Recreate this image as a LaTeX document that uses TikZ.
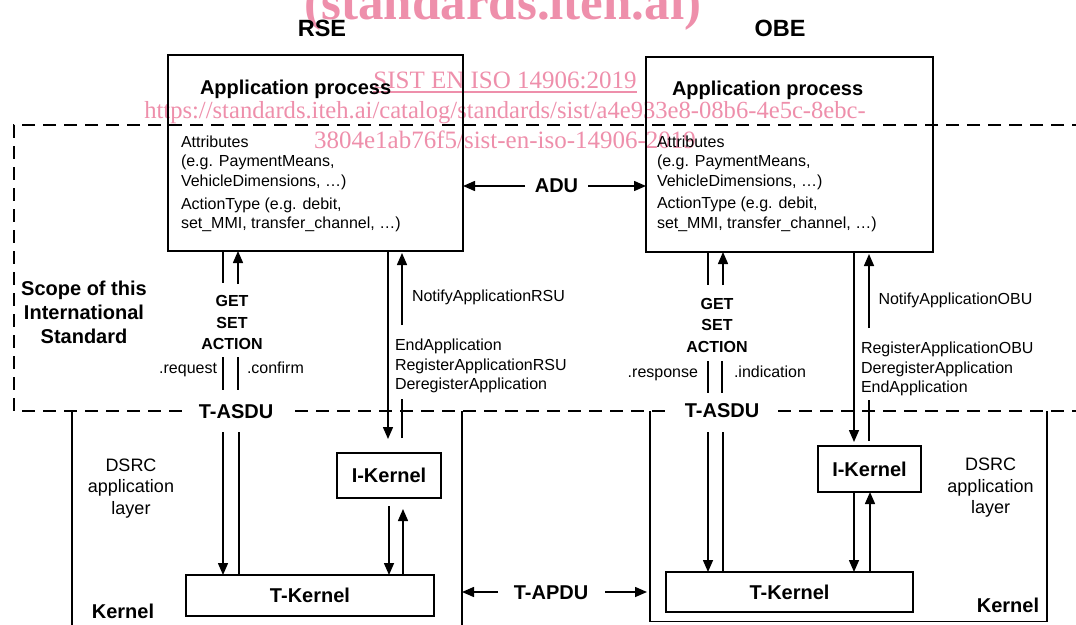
\documentclass[tikz,border=0pt]{standalone}
\usepackage{fontspec}
\setmainfont{Liberation Sans}
\newfontfamily\wmfont{Liberation Serif}
\usetikzlibrary{arrows.meta}
\definecolor{wmpink}{RGB}{238,143,171}
\newcommand\myfa{\fontsize{16}{19.5}\selectfont}
\newcommand\myfb{\fontsize{20}{24}\selectfont\bfseries}
\newcommand\myft{\fontsize{23.5}{28}\selectfont\bfseries}
\newcommand\myfg{\fontsize{16}{20}\selectfont\bfseries}
\newcommand\myfd{\fontsize{18}{21.5}\selectfont}
\newcommand\wmbig{\fontsize{51}{56}\selectfont\wmfont\bfseries}
\newcommand\wmmid{\fontsize{25}{30}\selectfont\wmfont}
\newcommand\wmsmall{\fontsize{24.6}{30}\selectfont\wmfont}
\begin{document}
\begin{tikzpicture}[x=1pt,y=-1pt,
  every node/.style={inner sep=0pt, outer sep=0pt},
  appbox/.style={draw, line width=1.8pt},
  kbox/.style={draw, line width=1.6pt, font=\myfb},
  ln/.style={line width=1.5pt},
  arr/.style={line width=1.5pt, -{Triangle[length=12pt,width=10pt]}},
  scopeline/.style={line width=1.8pt, dash pattern=on 13pt off 8pt},
  tl/.style={anchor=base west, font=\myfa},
  tc/.style={anchor=base, font=\myfa},
  bc/.style={anchor=base, font=\myfb},
  gc/.style={anchor=base, font=\myfg},
  dc/.style={anchor=base, font=\myfd},
  wm/.style={anchor=base, text=wmpink}
]
\useasboundingbox (0,0) rectangle (1076,624);
\clip (0,0) rectangle (1076,624);

% watermark
\node[wm, font=\wmbig] (wm0) at (503,19) {(standards.iteh.ai)};
\node[wm, font=\wmmid] (wm1) at (505,88) {SIST EN ISO 14906:2019};
\draw[wmpink, line width=1.2pt] ([yshift=-4pt]wm1.base west) -- ([yshift=-4pt]wm1.base east);
\node[wm, font=\wmsmall] (wm2) at (505,118) {https://standards.iteh.ai/catalog/standards/sist/a4e933e8-08b6-4e5c-8ebc-};
\node[wm, font=\wmmid] (wm3) at (505,148) {3804e1ab76f5/sist-en-iso-14906-2019};

% titles
\node[anchor=base, font=\myft] (rsetitle) at (322,36) {RSE};
\node[anchor=base, font=\myft] (obetitle) at (780,36) {OBE};

% application boxes
\node[appbox, minimum width=295pt, minimum height=196pt] (rseapp) at (315.5,153) {};
\node[appbox, minimum width=287pt, minimum height=195pt] (obeapp) at (789.5,154.5) {};

\node[anchor=base west, font=\myfb] (rseap) at (200,94) {Application process};
\node[tl] (rsea1) at (181,147) {Attributes};
\node[tl] (rsea2) at (181,166.5) {(e.g. PaymentMeans,};
\node[tl] (rsea3) at (181,186) {VehicleDimensions, …)};
\node[tl] (rsea4) at (181,209) {ActionType (e.g. debit,};
\node[tl] (rsea5) at (181,228.5) {set\_MMI, transfer\_channel, …)};

\node[anchor=base west, font=\myfb] (obeap) at (672,95) {Application process};
\node[tl] (obea1) at (657,147) {Attributes};
\node[tl] (obea2) at (657,166.5) {(e.g. PaymentMeans,};
\node[tl] (obea3) at (657,186) {VehicleDimensions, …)};
\node[tl] (obea4) at (657,208.5) {ActionType (e.g. debit,};
\node[tl] (obea5) at (657,228) {set\_MMI, transfer\_channel, …)};

% ADU
\node[bc] (adu) at (556.5,192.5) {ADU};
\coordinate (aduL) at (525,186);
\coordinate (aduR) at (588,186);
\draw[arr] (aduL) -- (aduL -| rseapp.east);
\draw[arr] (aduR) -- (aduR -| obeapp.west);

% scope
\draw[scopeline] (1085,125) -- (14,125) -- (14,411) -- (1085,411);
\node[bc] (sc1) at (84,295) {Scope of this};
\node[bc] (sc2) at (84,319) {International};
\node[bc] (sc3) at (84,343) {Standard};

% kernel regions
\draw[ln] (72,411) coordinate (rk1) -- (72,630) coordinate (rk2);
\draw[ln] (462,411) coordinate (rk3) -- (462,630) coordinate (rk4);
\draw[ln] (650,411) coordinate (ok1) -- (650,621.5) -- (1047,621.5) -- (1047,411) coordinate (ok2);

% kernel boxes
\node[kbox, minimum width=104pt, minimum height=45pt] (rseik) at (389,475.5) {I-Kernel};
\node[kbox, minimum width=248pt, minimum height=41pt] (rsetk) at (310,595.5) {T-Kernel};
\node[kbox, minimum width=103pt, minimum height=46pt] (obeik) at (869.5,469) {I-Kernel};
\node[kbox, minimum width=247pt, minimum height=40pt] (obetk) at (789.5,592) {T-Kernel};

% T-ASDU labels
\node[bc, fill=white, inner xsep=15pt, inner ysep=3pt] (rsetasdu) at (236,418) {T-ASDU};
\node[bc, fill=white, inner xsep=17pt, inner ysep=3pt] (obetasdu) at (722,417) {T-ASDU};

% RSE service primitives
\node[gc] (rget) at (232,306) {GET};
\node[gc] (rset) at (232,328) {SET};
\node[gc] (ract) at (232,349.5) {ACTION};
\node[anchor=base east, font=\myfa] (rreq) at (217,373) {.request};
\node[tl] (rconf) at (247,373) {.confirm};

\coordinate (r1) at (223,283);
\draw[ln] (rseapp.south -| r1) -- (r1);
\coordinate (r2) at (238,284);
\draw[arr] (r2) -- (rseapp.south -| r2);
\draw[ln] (223,357) coordinate (r3a) -- (223,390) coordinate (r3b);
\draw[ln] (238,357) coordinate (r4a) -- (238,390) coordinate (r4b);
\coordinate (r5) at (223,432);
\draw[arr] (r5) -- (r5 |- rsetk.north);
\coordinate (r6) at (239,432);
\draw[ln] (r6) -- (r6 |- rsetk.north);

% RSE application-kernel services
\node[tl] (rnot) at (412,301.5) {NotifyApplicationRSU};
\node[tl] (rend) at (395,350.5) {EndApplication};
\node[tl] (rreg) at (395,370) {RegisterApplicationRSU};
\node[tl] (rdereg) at (395,389) {DeregisterApplication};
\coordinate (r7) at (388,439);
\draw[arr] (rseapp.south -| r7) -- (r7);
\draw[ln] (402,438) coordinate (r8a) -- (402,399) coordinate (r8b);
\coordinate (r8c) at (402,325);
\draw[arr, shorten >=2pt] (r8c) -- (rseapp.south -| r8c);
\coordinate (r9) at (389,506);
\draw[arr] (r9) -- (r9 |- rsetk.north);
\coordinate (r10) at (403,509);
\draw[arr] (rsetk.north -| r10) -- (r10);

\node[dc] (rds1) at (131,471) {DSRC};
\node[dc] (rds2) at (131,492.5) {application};
\node[dc] (rds3) at (131,514) {layer};
\node[bc] (rkern) at (123,618) {Kernel};

% OBE service primitives
\node[gc] (oget) at (717,309) {GET};
\node[gc] (oset) at (717,330.5) {SET};
\node[gc] (oact) at (717,352) {ACTION};
\node[anchor=base east, font=\myfa] (oresp) at (698,377) {.response};
\node[tl] (oind) at (734,377) {.indication};

\coordinate (o1) at (708,285);
\draw[ln] (obeapp.south -| o1) -- (o1);
\coordinate (o2) at (723,285);
\draw[arr] (o2) -- (obeapp.south -| o2);
\draw[ln] (708,361) coordinate (o3a) -- (708,393) coordinate (o3b);
\draw[ln] (722,361) coordinate (o4a) -- (722,393) coordinate (o4b);
\coordinate (o5) at (708,432);
\draw[arr] (o5) -- (o5 |- obetk.north);
\coordinate (o6) at (723,432);
\draw[ln] (o6) -- (o6 |- obetk.north);

% OBE application-kernel services
\node[tl] (onot) at (878.5,304) {NotifyApplicationOBU};
\node[tl] (oreg) at (861,353) {RegisterApplicationOBU};
\node[tl] (odereg) at (861,373) {DeregisterApplication};
\node[tl] (oend) at (861,392.5) {EndApplication};
\coordinate (o7) at (854,442);
\draw[arr] (obeapp.south -| o7) -- (o7);
\draw[ln] (869,441) coordinate (o8a) -- (869,400) coordinate (o8b);
\coordinate (o8c) at (869,328);
\draw[arr, shorten >=2pt] (o8c) -- (obeapp.south -| o8c);
\coordinate (o9) at (854,0);
\draw[arr] (obeik.south -| o9) -- (obetk.north -| o9);
\coordinate (o10) at (870,0);
\draw[arr] (obetk.north -| o10) -- (obeik.south -| o10);

\node[dc] (ods1) at (990.5,470) {DSRC};
\node[dc] (ods2) at (990.5,492) {application};
\node[dc] (ods3) at (990.5,513) {layer};
\node[bc] (okern) at (1008,612) {Kernel};

% T-APDU
\node[bc] (tapdu) at (551,599) {T-APDU};
\coordinate (apL) at (498,592);
\coordinate (apR) at (605,592);
\draw[arr] (apL) -- (apL -| rk3);
\draw[arr] (apR) -- ([xshift=-3pt]apR -| ok1);
\end{tikzpicture}
\end{document}
